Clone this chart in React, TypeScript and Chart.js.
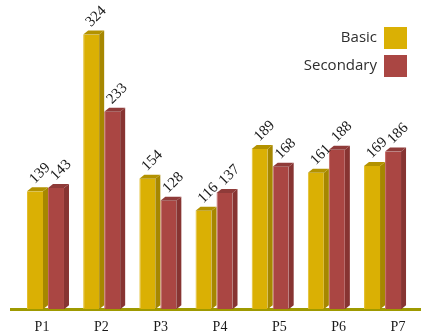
import React, { useEffect, useRef } from "react";
import { Chart, registerables } from "chart.js";

Chart.register(...registerables);

const categories = ["P1", "P2", "P3", "P4", "P5", "P6", "P7"];
const basicValues = [139, 324, 154, 116, 189, 161, 169];
const secondaryValues = [143, 233, 128, 137, 168, 188, 186];
const seriesNames = ["Basic", "Secondary"];

const FRONT = ["#DAB004", "#AA4643"];
const SIDE = ["#A68700", "#873432"];
const TOP = ["#B39200", "#8F3B39"];
const EDGE = ["#E3BF2E", "#C46663"];
const DEPTH_X = 5;
const DEPTH_Y = 4;

// One tick per category index on the linear x scales.
const categoryTicks = (scale: any) => {
  scale.ticks = categories.map((_c, i) => ({ value: i }));
};

// Extrudes each bar into a box: a top face and a right-hand side face.
const boxPlugin = {
  id: "boxBars",
  afterDatasetsDraw(chart: any) {
    const ctx = chart.ctx;
    chart.data.datasets.forEach((_ds: any, di: number) => {
      const meta = chart.getDatasetMeta(di);
      meta.data.forEach((bar: any) => {
        const { x, y, base, width } = bar.getProps(["x", "y", "base", "width"], true);
        const l = x - width / 2;
        const r = x + width / 2;
        ctx.save();
        ctx.fillStyle = SIDE[di];
        ctx.beginPath();
        ctx.moveTo(r, y);
        ctx.lineTo(r + DEPTH_X, y - DEPTH_Y);
        ctx.lineTo(r + DEPTH_X, base - DEPTH_Y);
        ctx.lineTo(r, base);
        ctx.closePath();
        ctx.fill();
        ctx.fillStyle = TOP[di];
        ctx.beginPath();
        ctx.moveTo(l, y);
        ctx.lineTo(l + DEPTH_X, y - DEPTH_Y);
        ctx.lineTo(r + DEPTH_X, y - DEPTH_Y);
        ctx.lineTo(r, y);
        ctx.closePath();
        ctx.fill();
        ctx.restore();
      });
    });
  },
};

// Value labels written diagonally above each bar.
const valueLabelPlugin = {
  id: "valueLabels",
  afterDatasetsDraw(chart: any) {
    const ctx = chart.ctx;
    chart.data.datasets.forEach((ds: any, di: number) => {
      const meta = chart.getDatasetMeta(di);
      meta.data.forEach((bar: any, i: number) => {
        const { x, y } = bar.getProps(["x", "y"], true);
        ctx.save();
        ctx.translate(x - 3, y - 10);
        ctx.rotate(-Math.PI / 4);
        ctx.font = "15px 'Liberation Serif', serif";
        ctx.fillStyle = "#1a1a1a";
        ctx.textAlign = "left";
        ctx.textBaseline = "middle";
        ctx.fillText(String(ds.data[i].y), 0, 0);
        ctx.restore();
      });
    });
  },
};

// Legend with text on the left and a colour square on the right.
const legendPlugin = {
  id: "sideLegend",
  afterDraw(chart: any) {
    const ctx = chart.ctx;
    const boxX = 384;
    const boxW = 23;
    const boxH = 22;
    const rows = [27, 55];
    chart.data.datasets.forEach((ds: any, di: number) => {
      const top = rows[di];
      ctx.save();
      ctx.fillStyle = ds.backgroundColor;
      ctx.fillRect(boxX, top, boxW, boxH);
      ctx.font = "15px 'Open Sans', sans-serif";
      ctx.fillStyle = "#2e2e2e";
      ctx.textAlign = "right";
      ctx.textBaseline = "middle";
      ctx.fillText(ds.label, boxX - 7, top + boxH / 2);
      ctx.restore();
    });
  },
};

export default function App() {
  const canvasRef = useRef<HTMLCanvasElement | null>(null);

  useEffect(() => {
    if (!canvasRef.current) return;
    const chart = new Chart(canvasRef.current, {
      type: "bar",
      data: {
        datasets: [
          {
            label: seriesNames[0],
            data: basicValues.map((v, i) => ({ x: i, y: v })),
            backgroundColor: FRONT[0],
            borderColor: EDGE[0],
            borderWidth: { left: 1, right: 0, top: 0, bottom: 0 },
            xAxisID: "xb",
            categoryPercentage: 0.7477,
            barPercentage: 0.762,
          },
          {
            label: seriesNames[1],
            data: secondaryValues.map((v, i) => ({ x: i, y: v })),
            backgroundColor: FRONT[1],
            borderColor: EDGE[1],
            borderWidth: { left: 1, right: 0, top: 0, bottom: 0 },
            xAxisID: "xb",
            categoryPercentage: 0.7477,
            barPercentage: 0.762,
          },
        ],
      },
      options: {
        responsive: false,
        animation: false,
        layout: { padding: { left: 11, right: 2, top: 4, bottom: -11 } },
        plugins: { legend: { display: false }, tooltip: { enabled: false } },
        scales: {
          xb: {
            type: "linear",
            display: false,
            offset: false,
            bounds: "data",
            min: -0.614,
            max: 6.667,
            afterBuildTicks: categoryTicks,
          },
          x: {
            type: "linear",
            position: "bottom",
            offset: false,
            bounds: "data",
            min: -0.5225,
            max: 6.3705,
            afterBuildTicks: categoryTicks,
            grid: { display: false, drawTicks: false },
            border: { display: true, color: "#9E9A00", width: 3 },
            ticks: {
              autoSkip: false,
              maxRotation: 0,
              padding: 10,
              color: "#1a1a1a",
              font: { family: "'Liberation Serif', serif", size: 14 },
              callback: (v: any) => categories[Math.round(v)] ?? "",
            },
          },
          y: {
            display: false,
            min: 0,
            max: 360,
          },
        },
      },
      plugins: [boxPlugin, valueLabelPlugin, legendPlugin],
    } as any);
    return () => chart.destroy();
  }, []);

  return (
    <div style={{ position: "absolute", left: 0, top: 0, width: 422, height: 335, background: "#fff" }}>
      <canvas ref={canvasRef} width={422} height={335} />
    </div>
  );
}
